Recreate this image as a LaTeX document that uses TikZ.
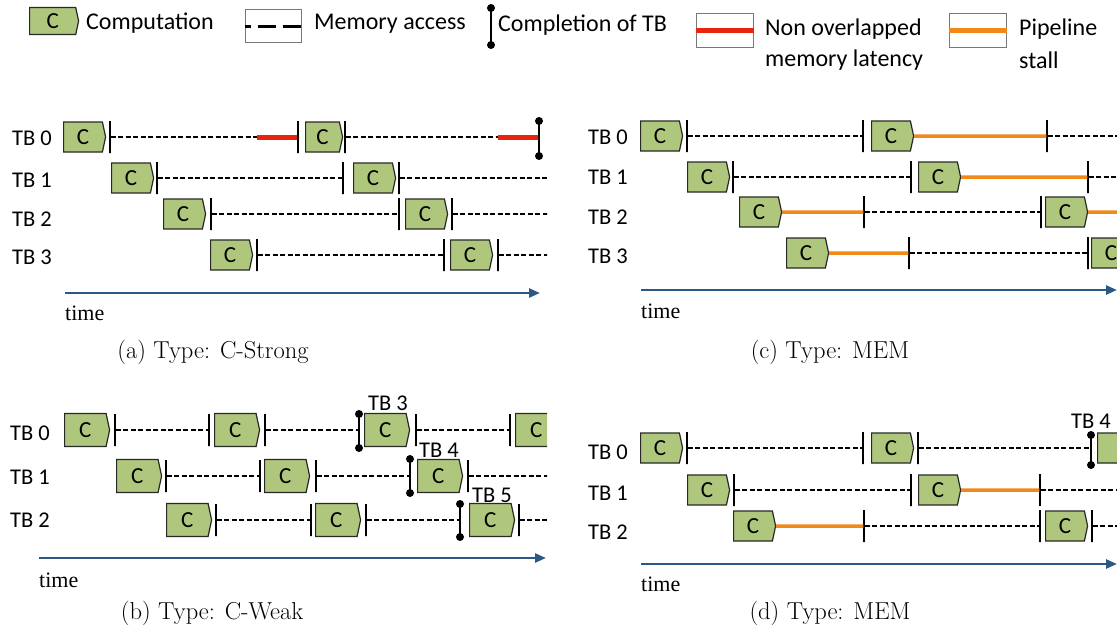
\documentclass[tikz,border=0pt]{standalone}
\usepackage{fontspec}
\usetikzlibrary{shapes.symbols,arrows.meta}
\newfontfamily\carlito{Carlito}
\newfontfamily\timesfont{Liberation Serif}
\definecolor{boxgreen}{RGB}{175,198,125}
\definecolor{boxedge}{RGB}{40,40,40}
\definecolor{latred}{RGB}{232,36,14}
\definecolor{stallorange}{RGB}{240,136,26}
\definecolor{axisblue}{RGB}{44,88,134}
\definecolor{legedge}{RGB}{120,120,120}

\tikzset{
  cbox/.style={signal, signal to=east, signal pointer angle=156,
    draw=boxedge, fill=boxgreen, line width=1.2pt, inner sep=0pt,
    minimum width=42pt, minimum height=30pt, anchor=west,
    font=\carlito\fontsize{23}{23}\selectfont},
  tickmark/.style={draw=black, line width=1.1pt, rectangle, inner sep=0pt,
    minimum width=0pt, minimum height=32pt},
  mem/.style={draw=black, line width=1.6pt, dash pattern=on 5pt off 2.5pt},
  nolat/.style={draw=latred, line width=5pt},
  stall/.style={draw=stallorange, line width=3.5pt},
  donebar/.style={draw=black, line width=1.6pt},
  timeaxis/.style={draw=axisblue, line width=2.5pt, -{Triangle[length=11pt,width=9pt]}},
  tblabel/.style={anchor=west, inner sep=0pt, font=\carlito\fontsize{22.5}{22.5}\selectfont},
  leglabel/.style={anchor=west, inner sep=0pt, font=\carlito\fontsize{24}{24}\selectfont},
  legbox/.style={draw=legedge, fill=white, line width=1pt, inner sep=0pt,
    minimum width=57pt, minimum height=34pt},
  timelabel/.style={anchor=west, inner sep=0pt, font=\timesfont\fontsize{22}{22}\selectfont},
  caption/.style={inner sep=0pt, font=\fontsize{24.5}{24.5}\selectfont},
}

\begin{document}
\begin{tikzpicture}[x=1pt, y=-1pt]
\useasboundingbox (0,0) rectangle (1117,634);

% ---------------- legend ----------------
\node[cbox, minimum width=49pt, minimum height=27pt] (lc) at (29,21) {C};
\node[leglabel] (lcomp) at (86,23) {Computation};
\node[legbox, minimum width=56pt, minimum height=33pt] (lmem) at (273,26.5) {};
\draw[draw=black, line width=2.6pt, dash pattern=on 18pt off 7pt, dash phase=12pt]
  (lmem.west) -- (lmem.east);
\node[leglabel] (lmemt) at (314,24) {Memory access};
\coordinate (ldt) at (491,8);
\coordinate (ldb) at (491,45);
\draw[donebar] (ldt) -- (ldb);
\fill (ldt) circle (4);
\fill (ldb) circle (4);
\node[leglabel] (ldone) at (498,25) {Completion of TB};
\node[legbox] (lred) at (724.5,31) {};
\draw[nolat] (lred.west) -- (lred.east);
\node[leglabel] (lredt1) at (765,29) {Non overlapped};
\node[leglabel] (lredt2) at (765,60) {memory latency};
\node[legbox] (lorg) at (977.5,31) {};
\draw[stall, line width=5pt] (lorg.west) -- (lorg.east);
\node[leglabel] (lorgt1) at (1019,29) {Pipeline};
\node[leglabel] (lorgt2) at (1019,60) {stall};

% ---------------- (a) C-Strong ----------------
\begin{scope}
\clip (0,60) rectangle (547,330);
\node[tblabel] at (12,138) {TB 0};
\node[tblabel] at (12,180) {TB 1};
\node[tblabel] at (12,219) {TB 2};
\node[tblabel] at (12,257) {TB 3};
% TB 0
\node[cbox] (a0c1) at (63,137) {C};
\node[tickmark] (a0t1) at (110,137) {};
\coordinate (a0r1) at (257,137);
\node[tickmark] (a0t2) at (298,137) {};
\node[cbox, minimum width=37pt] (a0c2) at (305,137) {C};
\node[tickmark] (a0t3) at (345,137) {};
\coordinate (a0r2) at (498,137);
\coordinate (a0mt) at (539,121);
\coordinate (a0mb) at (539,156);
\coordinate (a0m) at (539,137);
\draw[mem] (a0t1) -- (a0r1);
\draw[nolat] (a0r1) -- (a0t2);
\draw[mem] (a0t3) -- (a0r2);
\draw[nolat] (a0r2) -- (a0m);
\draw[donebar] (a0mt) -- (a0mb);
\fill (a0mt) circle (4);
\fill (a0mb) circle (4);
% TB 1
\node[cbox] (a1c1) at (111,178) {C};
\node[tickmark] (a1t1) at (157,178) {};
\node[tickmark] (a1t2) at (343,178) {};
\node[cbox] (a1c2) at (353,178) {C};
\node[tickmark] (a1t3) at (399,178) {};
\coordinate (a1e) at (550,178);
\draw[mem] (a1t1) -- (a1t2);
\draw[mem] (a1t3) -- (a1e);
% TB 2
\node[cbox] (a2c1) at (163,214) {C};
\node[tickmark] (a2t1) at (211,214) {};
\node[tickmark] (a2t2) at (399,214) {};
\node[cbox] (a2c2) at (405,214) {C};
\node[tickmark] (a2t3) at (452,214) {};
\coordinate (a2e) at (550,214);
\draw[mem] (a2t1) -- (a2t2);
\draw[mem] (a2t3) -- (a2e);
% TB 3
\node[cbox] (a3c1) at (210,255) {C};
\node[tickmark] (a3t1) at (257,255) {};
\node[tickmark] (a3t2) at (444,255) {};
\node[cbox] (a3c2) at (450,255) {C};
\node[tickmark] (a3t3) at (498,255) {};
\coordinate (a3e) at (550,255);
\draw[mem] (a3t1) -- (a3t2);
\draw[mem] (a3t3) -- (a3e);
% time axis
\coordinate (aax0) at (65,293);
\coordinate (aax1) at (540,293);
\draw[timeaxis] (aax0) -- (aax1);
\end{scope}
\node[timelabel] at (65,313) {time};
\node[caption] at (213,352) {(a) Type: C-Strong};

% ---------------- (b) C-Weak ----------------
\begin{scope}
\clip (0,380) rectangle (547,600);
\tikzset{cbox/.append style={minimum width=45pt, minimum height=33pt}}
\node[tblabel] at (10,433) {TB 0};
\node[tblabel] at (10,477) {TB 1};
\node[tblabel] at (10,520) {TB 2};
% TB 0
\node[cbox] (b0c1) at (64,430) {C};
\node[tickmark] (b0t1) at (115,430) {};
\node[tickmark] (b0t2) at (209,430) {};
\node[cbox] (b0c2) at (214,430) {C};
\node[tickmark] (b0t3) at (265,430) {};
\coordinate (b0mt) at (359,414);
\coordinate (b0mb) at (359,448);
\coordinate (b0m) at (359,430);
\node[cbox] (b0c3) at (364,430) {C};
\node[tickmark] (b0t4) at (416,430) {};
\node[tickmark] (b0t5) at (510,430) {};
\node[cbox] (b0c4) at (515,430) {C};
\draw[mem] (b0t1) -- (b0t2);
\draw[mem] (b0t3) -- (b0m);
\draw[mem] (b0t4) -- (b0t5);
\draw[donebar] (b0mt) -- (b0mb);
\fill (b0mt) circle (4);
\fill (b0mb) circle (4);
% TB 1
\node[cbox] (b1c1) at (116,476) {C};
\node[tickmark] (b1t1) at (166,476) {};
\node[tickmark] (b1t2) at (260,476) {};
\node[cbox] (b1c2) at (264,476) {C};
\node[tickmark] (b1t3) at (316,476) {};
\coordinate (b1mt) at (410,459);
\coordinate (b1mb) at (410,493);
\coordinate (b1m) at (410,476);
\node[cbox] (b1c3) at (417,476) {C};
\node[tickmark] (b1t4) at (468,476) {};
\coordinate (b1e) at (550,476);
\draw[mem] (b1t1) -- (b1t2);
\draw[mem] (b1t3) -- (b1m);
\draw[mem] (b1t4) -- (b1e);
\draw[donebar] (b1mt) -- (b1mb);
\fill (b1mt) circle (4);
\fill (b1mb) circle (4);
% TB 2
\node[cbox] (b2c1) at (166,520) {C};
\node[tickmark] (b2t1) at (216,520) {};
\node[tickmark] (b2t2) at (311,520) {};
\node[cbox] (b2c2) at (315,520) {C};
\node[tickmark] (b2t3) at (366,520) {};
\coordinate (b2mt) at (460,504);
\coordinate (b2mb) at (460,537);
\coordinate (b2m) at (460,520);
\node[cbox] (b2c3) at (469,520) {C};
\node[tickmark] (b2t4) at (519,520) {};
\coordinate (b2e) at (550,520);
\draw[mem] (b2t1) -- (b2t2);
\draw[mem] (b2t3) -- (b2m);
\draw[mem] (b2t4) -- (b2e);
\draw[donebar] (b2mt) -- (b2mb);
\fill (b2mt) circle (4);
\fill (b2mb) circle (4);
% time axis
\coordinate (bax0) at (39,558);
\coordinate (bax1) at (546,558);
\draw[timeaxis] (bax0) -- (bax1);
\end{scope}
\node[tblabel, anchor=center] at (388,403) {TB 3};
\node[tblabel, anchor=center] at (439,450) {TB 4};
\node[tblabel, anchor=center] at (492,495) {TB 5};
\node[timelabel] at (39,580) {time};
\node[caption] at (212,613) {(b) Type: C-Weak};

% ---------------- (c) MEM ----------------
\node[tblabel] at (588,137) {TB 0};
\node[tblabel] at (588,177) {TB 1};
\node[tblabel] at (588,217) {TB 2};
\node[tblabel] at (588,256) {TB 3};
% TB 0
\node[cbox] (c0c1) at (640,136) {C};
\node[tickmark] (c0t1) at (687,136) {};
\node[tickmark] (c0t2) at (863,136) {};
\node[cbox] (c0c2) at (871,136) {C};
\node[tickmark] (c0t3) at (1047,136) {};
\coordinate (c0e) at (1125,136);
\draw[mem] (c0t1) -- (c0t2);
\draw[stall] (c0c2) -- (c0t3);
\draw[mem] (c0t3) -- (c0e);
% TB 1
\node[cbox] (c1c1) at (687,177) {C};
\node[tickmark] (c1t1) at (733,177) {};
\node[tickmark] (c1t2) at (911,177) {};
\node[cbox] (c1c2) at (918,177) {C};
\node[tickmark] (c1t3) at (1088,177) {};
\coordinate (c1e) at (1125,177);
\draw[mem] (c1t1) -- (c1t2);
\draw[stall] (c1c2) -- (c1t3);
\draw[mem] (c1t3) -- (c1e);
% TB 2
\node[cbox] (c2c1) at (739,212) {C};
\node[tickmark] (c2t1) at (864,212) {};
\node[tickmark] (c2t2) at (1041,212) {};
\node[cbox] (c2c2) at (1045,212) {C};
\coordinate (c2e) at (1125,212);
\draw[stall] (c2c1) -- (c2t1);
\draw[mem] (c2t1) -- (c2t2);
\draw[stall] (c2c2) -- (c2e);
% TB 3
\node[cbox] (c3c1) at (786,253) {C};
\node[tickmark] (c3t1) at (909,253) {};
\node[tickmark] (c3t2) at (1088,253) {};
\node[cbox] (c3c2) at (1091,253) {C};
\draw[stall] (c3c1) -- (c3t1);
\draw[mem] (c3t1) -- (c3t2);
% time axis
\coordinate (cax0) at (641,290);
\coordinate (cax1) at (1117,290);
\draw[timeaxis] (cax0) -- (cax1);
\node[timelabel] at (641,311) {time};
\node[caption] at (830,352) {(c) Type: MEM};

% ---------------- (d) MEM ----------------
\node[tblabel] at (588,452) {TB 0};
\node[tblabel] at (588,493) {TB 1};
\node[tblabel] at (588,532) {TB 2};
% TB 0
\node[cbox] (d0c1) at (640,448) {C};
\node[tickmark] (d0t1) at (687,448) {};
\node[tickmark] (d0t2) at (863,448) {};
\node[cbox] (d0c2) at (871,448) {C};
\node[tickmark] (d0t3) at (918,448) {};
\coordinate (d0mt) at (1091,435);
\coordinate (d0mb) at (1091,465);
\coordinate (d0m) at (1091,448);
% this box runs past the right edge, its letter lies beyond it
\node[cbox] (d0c3) at (1097,448) {};
\draw[mem] (d0t1) -- (d0t2);
\draw[mem] (d0t3) -- (d0m);
\draw[donebar] (d0mt) -- (d0mb);
\fill (d0mt) circle (4);
\fill (d0mb) circle (4);
\node[tblabel, anchor=east] at (1111,421) {TB 4};
% TB 1
\node[cbox] (d1c1) at (687,490) {C};
\node[tickmark] (d1t1) at (734,490) {};
\node[tickmark] (d1t2) at (911,490) {};
\node[cbox] (d1c2) at (918,490) {C};
\node[tickmark] (d1t3) at (1040,490) {};
\coordinate (d1e) at (1125,490);
\draw[mem] (d1t1) -- (d1t2);
\draw[stall] (d1c2) -- (d1t3);
\draw[mem] (d1t3) -- (d1e);
% TB 2
\node[cbox] (d2c1) at (733,526) {C};
\node[tickmark] (d2t1) at (864,526) {};
\node[tickmark] (d2t2) at (1040,526) {};
\node[cbox] (d2c2) at (1045,526) {C};
\node[tickmark] (d2t3) at (1092,526) {};
\coordinate (d2e) at (1125,526);
\draw[stall] (d2c1) -- (d2t1);
\draw[mem] (d2t1) -- (d2t2);
\draw[mem] (d2t3) -- (d2e);
% time axis
\coordinate (dax0) at (641,564);
\coordinate (dax1) at (1117,564);
\draw[timeaxis] (dax0) -- (dax1);
\node[timelabel] at (641,584) {time};
\node[caption] at (830,613) {(d) Type: MEM};
\end{tikzpicture}
\end{document}
